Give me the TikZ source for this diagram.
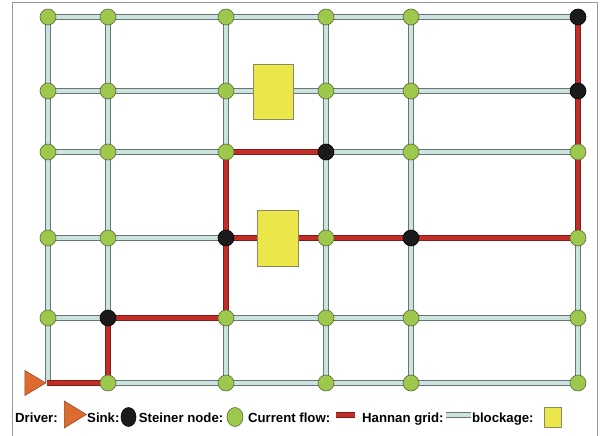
\documentclass[tikz,border=0pt]{standalone}
\usepackage{fontspec}
\setmainfont{Liberation Sans}
\usetikzlibrary{shapes.geometric}
\definecolor{nodegreen}{HTML}{9DC84B}
\definecolor{nodegreenedge}{HTML}{5A6B3A}
\definecolor{steinerblack}{HTML}{1C1A1A}
\definecolor{hanfill}{HTML}{CCE4DF}
\definecolor{hanedge}{HTML}{6A7472}
\definecolor{flowfill}{HTML}{C42C28}
\definecolor{flowedge}{HTML}{7A201C}
\definecolor{blockfill}{HTML}{EBE64A}
\definecolor{blockedge}{HTML}{8A8A5C}
\definecolor{drvfill}{HTML}{DD6A2E}
\definecolor{drvedge}{HTML}{8C4524}
\definecolor{framegray}{HTML}{9A9A9A}
\pgfdeclarelayer{gridedge}
\pgfdeclarelayer{gridfill}
\pgfdeclarelayer{flowlayer}
\pgfsetlayers{gridedge,gridfill,flowlayer,main}
\tikzset{
  hanouter/.style={draw=hanedge, line width=5.8pt},
  haninner/.style={draw=hanfill, line width=3.8pt},
  flow/.style={draw=flowedge, double=flowfill, double distance=4.2pt, line width=0.7pt, line join=miter},
  gnode/.style={circle, fill=nodegreen, draw=nodegreenedge, line width=0.6pt, minimum size=16pt, inner sep=0pt},
  snode/.style={gnode, fill=steinerblack, draw=black},
  blockbox/.style={rectangle, fill=blockfill, draw=blockedge, line width=0.6pt, inner sep=0pt},
  drvtri/.style={isosceles triangle, isosceles triangle stretches, fill=drvfill, draw=drvedge, line width=0.5pt, inner sep=0pt},
  keytext/.style={anchor=base west, inner sep=0pt, font=\bfseries\fontsize{13.2}{15}\selectfont},
  framebox/.style={draw=framegray, line width=0.9pt}
}
\begin{document}
\begin{tikzpicture}[x=1pt, y=-1pt]
\useasboundingbox (0,0) rectangle (608,436);

% outer frame (open at the bottom)
\draw[framebox] (12,436) |- (597,2) -- (597,436);

% lattice points of the Hannan grid
\foreach \x [count=\i] in {48,108,226,326,411,578}
  \foreach \y [count=\j] in {17,91,152,238,318,383}
    \coordinate (p\i\j) at (\x,\y);

% Hannan grid segments: dark rim first, pale core on top
\foreach \j in {1,...,6}
  \foreach \i/\k in {1/2,2/3,3/4,4/5,5/6} {
    \begin{pgfonlayer}{gridedge}
      \draw[hanouter] (p\i\j) -- (p\k\j);
    \end{pgfonlayer}
    \begin{pgfonlayer}{gridfill}
      \draw[haninner] (p\i\j) -- (p\k\j);
    \end{pgfonlayer}
  }
\foreach \i in {1,...,6}
  \foreach \j/\k in {1/2,2/3,3/4,4/5,5/6} {
    \begin{pgfonlayer}{gridedge}
      \draw[hanouter] (p\i\j) -- (p\i\k);
    \end{pgfonlayer}
    \begin{pgfonlayer}{gridfill}
      \draw[haninner] (p\i\j) -- (p\i\k);
    \end{pgfonlayer}
  }

% driver
\node[drvtri, anchor=apex, minimum width=25pt, minimum height=21pt] (drv) at (46.5,383) {};

% routed net (current flow)
\begin{pgfonlayer}{flowlayer}
\draw[flow] (drv.apex) -- (p26) -- (p25) -- (p35) -- (p34) -- (p33) -- (p43);
\draw[flow] (p34) -- (p44) -- (p54) -- (p64) -- (p63) -- (p62) -- (p61);
\end{pgfonlayer}

% blockages
\node[blockbox, minimum width=40pt, minimum height=55pt] (blk1) at (273,91.5) {};
\node[blockbox, minimum width=41pt, minimum height=56pt] (blk2) at (278,238) {};

% Steiner nodes
\foreach \i/\j in {1/1,2/1,3/1,4/1,5/1,
                   1/2,2/2,3/2,4/2,5/2,
                   1/3,2/3,3/3,5/3,6/3,
                   1/4,2/4,4/4,6/4,
                   1/5,3/5,4/5,5/5,6/5,
                   2/6,3/6,4/6,5/6,6/6}
  \node[gnode] (n\i\j) at (p\i\j) {};

% sinks
\foreach \i/\j in {6/1,6/2,4/3,3/4,5/4,2/5}
  \node[snode] (n\i\j) at (p\i\j) {};

% legend
\node[keytext] (kdrv) at (15,422) {Driver:};
\node[drvtri, anchor=apex, minimum width=27pt, minimum height=22pt] (kdrvsym) at (87,414.5) {};
\node[keytext] (ksink) at (87,422) {Sink:};
\node[ellipse, fill=steinerblack, draw=black, line width=0.6pt, minimum width=15pt, minimum height=19pt, inner sep=0pt] (ksinksym) at (128.5,417) {};
\node[keytext] (kstein) at (138.7,422) {Steiner node:};
\node[ellipse, fill=nodegreen, draw=nodegreenedge, line width=0.6pt, minimum width=16pt, minimum height=19pt, inner sep=0pt] (ksteinsym) at (235,417) {};
\node[keytext] (kflow) at (247.9,422) {Current flow:};
\coordinate (kflowa) at (335.5,415);
\coordinate (kflowb) at (355,415);
\draw[flow] (kflowa) -- (kflowb);
\node[keytext] (kgrid) at (362,422) {Hannan grid:};
\coordinate (kgrida) at (446,415);
\coordinate (kgridb) at (471,415);
\draw[hanouter] (kgrida) -- (kgridb);
\draw[haninner] (kgrida) -- (kgridb);
\node[keytext] (kblk) at (471.8,422) {blockage:};
\node[blockbox, minimum width=17pt, minimum height=20pt] (kblksym) at (552.5,417) {};
\end{tikzpicture}
\end{document}
